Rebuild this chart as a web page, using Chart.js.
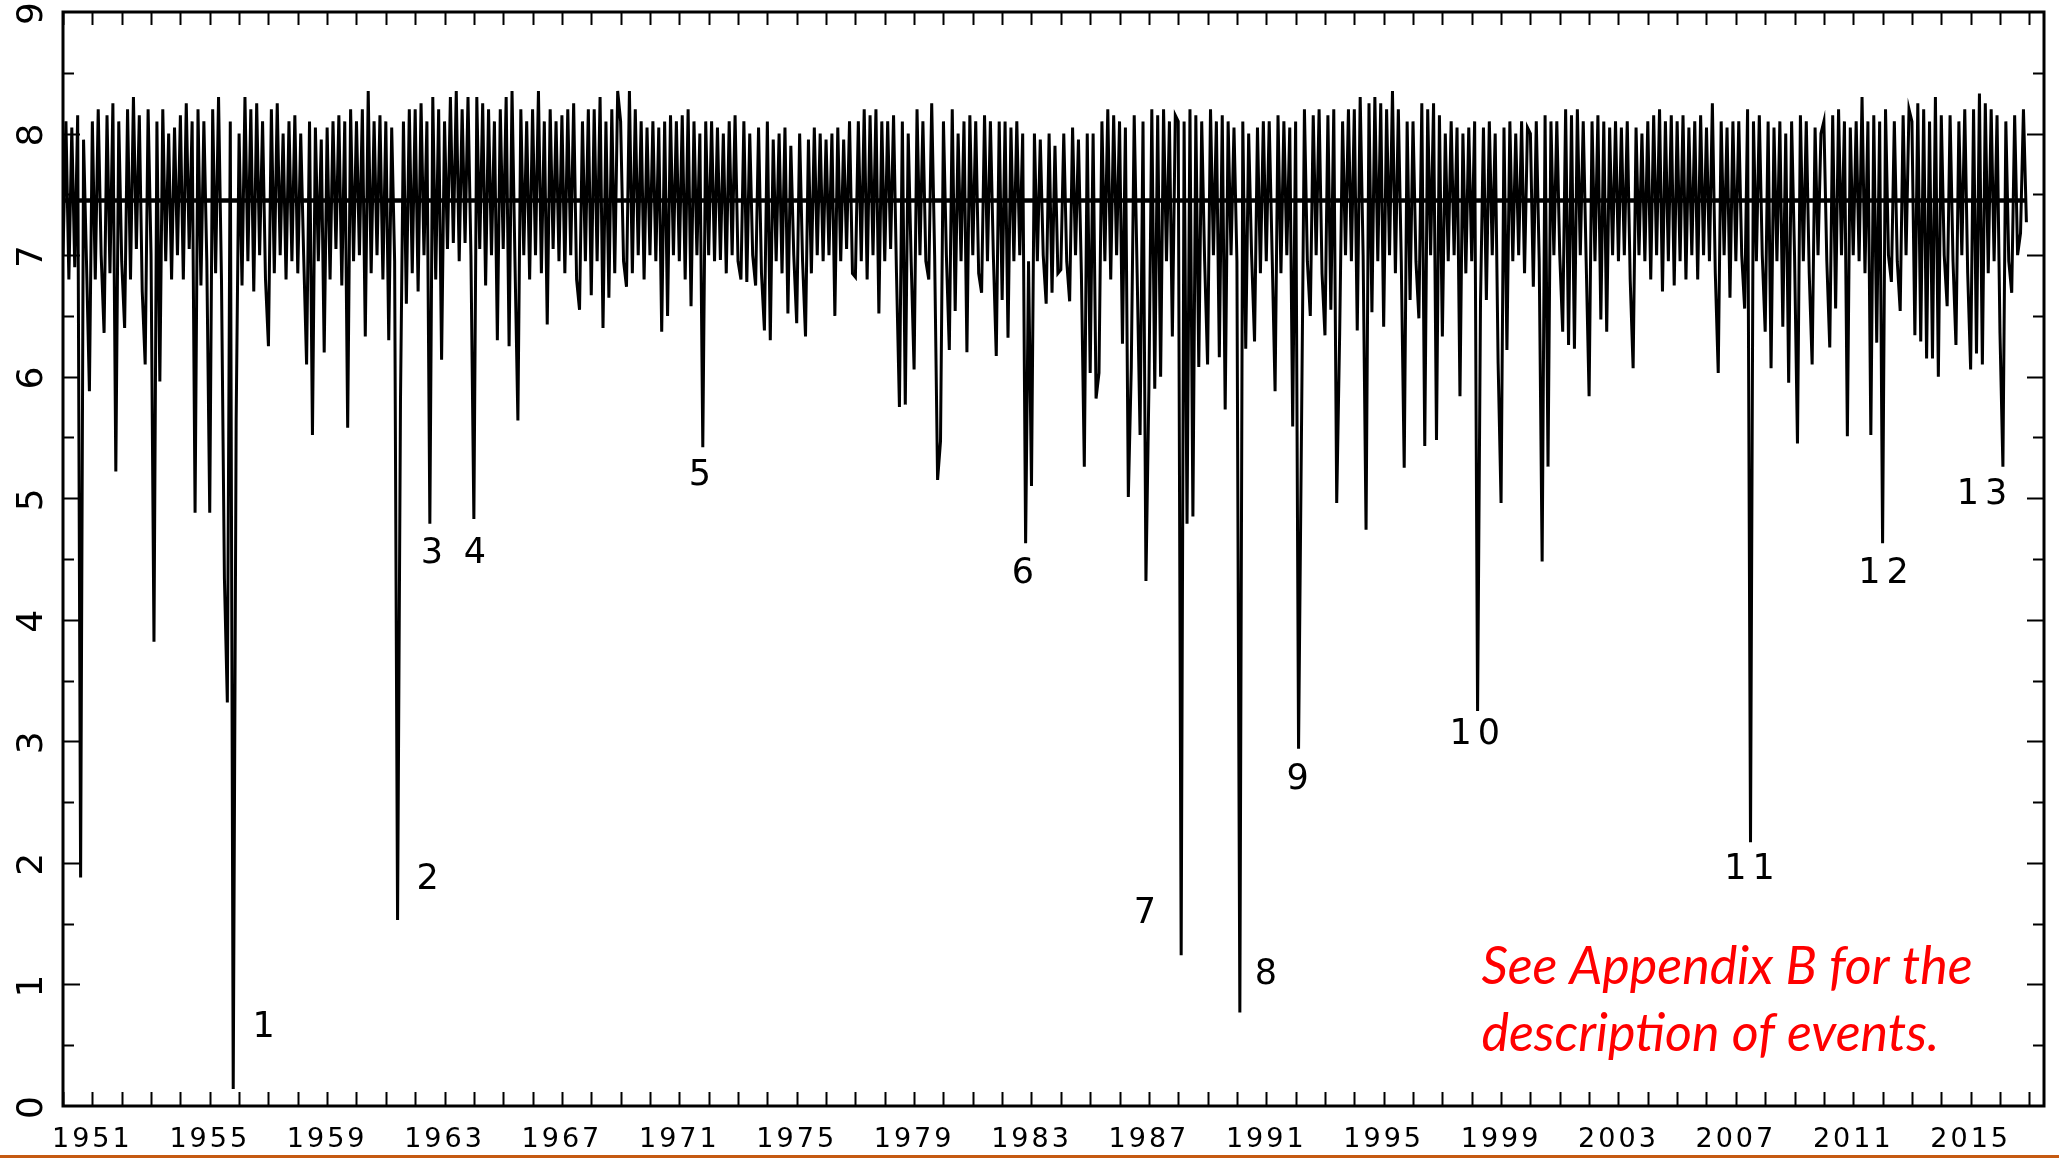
<!DOCTYPE html>
<html>
<head>
<meta charset="utf-8">
<script src="https://cdn.jsdelivr.net/npm/chart.js@4.4.1/dist/chart.umd.min.js"></script>
<style>
  html, body { margin: 0; padding: 0; background: #fff; }
  #wrap { position: relative; width: 2059px; height: 1159px; }
  #rule { position: absolute; left: 0; top: 1155px; width: 2059px; height: 3px; background: #C55A11; }
</style>
</head>
<body>
<div id="wrap">
  <canvas id="levelChart"></canvas>
  <div id="rule"></div>
</div>
<script>
// サンプリング: 1950年から1年あたり10点
const firstYear = 1950;
const samplesPerYear = 10;

// 系列の値（1行 = 1年分）
const levels = [
  7.0, 8.1, 6.8, 8.05, 6.9, 8.15, 1.88, 7.95, 6.95, 5.88,      // 1950
  8.1, 6.8, 8.2, 7.0, 6.36, 8.15, 6.85, 8.25, 5.22, 8.1,       // 1951
  6.95, 6.4, 8.2, 6.8, 8.3, 7.05, 8.15, 6.7, 6.1, 8.2,         // 1952
  7.0, 3.82, 8.1, 5.96, 8.2, 6.95, 8.0, 6.8, 8.05, 7.0,        // 1953
  8.15, 6.8, 8.25, 7.05, 8.1, 4.88, 8.2, 6.75, 8.1, 6.95,      // 1954
  4.88, 8.2, 6.85, 8.3, 6.8, 4.34, 3.32, 8.1, 0.14, 5.64,      // 1955
  8.0, 6.75, 8.3, 6.95, 8.2, 6.7, 8.25, 7.0, 8.1, 6.8,         // 1956
  6.25, 8.2, 6.85, 8.25, 7.0, 8.0, 6.8, 8.1, 6.95, 8.15,       // 1957
  6.85, 8.0, 7.0, 6.1, 8.1, 5.52, 8.05, 6.95, 7.95, 6.2,       // 1958
  8.05, 6.8, 8.1, 7.05, 8.15, 6.75, 8.1, 5.58, 8.2, 6.95,      // 1959
  8.1, 7.0, 8.2, 6.33, 8.35, 6.85, 8.1, 7.0, 8.15, 6.8,        // 1960
  8.1, 6.3, 8.05, 6.95, 1.53, 5.82, 8.1, 6.6, 8.2, 6.85,       // 1961
  8.2, 6.7, 8.25, 7.0, 8.1, 4.79, 8.3, 6.8, 8.2, 6.14,         // 1962
  8.1, 7.05, 8.3, 7.1, 8.35, 6.95, 8.2, 7.1, 8.3, 7.0,         // 1963
  4.83, 8.3, 7.05, 8.25, 6.75, 8.2, 7.0, 8.1, 6.3, 8.2,        // 1964
  7.05, 8.3, 6.25, 8.35, 6.95, 5.64, 8.2, 7.0, 8.1, 6.8,       // 1965
  8.2, 7.0, 8.35, 6.85, 8.1, 6.43, 8.2, 7.05, 8.1, 6.95,       // 1966
  8.15, 6.85, 8.2, 7.0, 8.25, 6.8, 6.55, 8.1, 6.95, 8.2,       // 1967
  6.67, 8.2, 6.95, 8.3, 6.4, 8.1, 6.65, 8.2, 6.85, 8.35,       // 1968
  8.1, 6.95, 6.74, 8.35, 6.85, 8.2, 7.0, 8.1, 6.8, 8.05,       // 1969
  7.0, 8.1, 6.95, 8.05, 6.37, 8.1, 6.5, 8.15, 7.0, 8.1,        // 1970
  6.95, 8.15, 6.8, 8.2, 6.58, 8.1, 7.0, 8.0, 5.42, 8.1,        // 1971
  7.0, 8.1, 6.95, 8.05, 6.96, 8.0, 6.85, 8.1, 7.0, 8.15,       // 1972
  6.95, 6.8, 8.1, 6.78, 8.0, 7.0, 6.75, 8.05, 6.85, 6.38,      // 1973
  8.1, 6.3, 7.95, 6.95, 8.0, 6.85, 8.05, 6.52, 7.9, 7.0,       // 1974
  6.44, 8.0, 6.95, 6.33, 7.95, 6.85, 8.05, 7.0, 8.0, 6.95,     // 1975
  7.95, 7.0, 8.0, 6.5, 8.05, 6.95, 7.95, 7.05, 8.1, 6.85,      // 1976
  6.82, 8.1, 6.95, 8.2, 6.8, 8.15, 7.0, 8.2, 6.52, 8.1,        // 1977
  6.95, 8.1, 7.05, 8.15, 6.85, 5.75, 8.1, 5.77, 8.0, 6.95,     // 1978
  6.06, 8.2, 7.0, 8.1, 6.95, 6.8, 8.25, 7.0, 5.15, 5.47,       // 1979
  8.1, 7.0, 6.22, 8.2, 6.54, 8.0, 6.95, 8.1, 6.2, 8.15,        // 1980
  7.0, 8.1, 6.85, 6.69, 8.15, 6.95, 8.1, 7.0, 6.17, 8.1,       // 1981
  6.63, 8.1, 6.32, 8.05, 6.95, 8.1, 7.0, 8.0, 4.63, 6.95,      // 1982
  5.1, 8.0, 6.95, 7.95, 7.0, 6.6, 8.0, 6.69, 7.9, 6.85,        // 1983
  6.88, 8.0, 6.95, 6.62, 8.05, 7.0, 7.95, 6.85, 5.26, 8.0,     // 1984
  6.03, 8.0, 5.82, 6.03, 8.1, 6.95, 8.2, 6.8, 8.15, 7.0,       // 1985
  8.1, 6.27, 8.05, 5.01, 6.07, 8.15, 6.85, 5.52, 8.1, 4.32,    // 1986
  5.89, 8.2, 5.9, 8.15, 6.0, 8.2, 6.95, 8.1, 6.33, 8.15,       // 1987
  8.1, 1.24, 8.1, 4.79, 8.2, 4.85, 8.15, 6.08, 8.1, 6.95,      // 1988
  6.1, 8.2, 7.0, 8.1, 6.16, 8.15, 5.73, 8.1, 7.0, 8.05,        // 1989
  6.95, 0.77, 8.1, 6.23, 8.0, 7.0, 6.29, 8.05, 6.85, 8.1,      // 1990
  6.95, 8.1, 7.0, 5.88, 8.15, 6.85, 8.1, 7.0, 8.05, 5.59,      // 1991
  8.1, 2.94, 5.56, 8.2, 6.95, 6.5, 8.15, 7.0, 8.2, 6.85,       // 1992
  6.34, 8.15, 6.55, 8.2, 4.96, 6.34, 8.1, 7.0, 8.2, 6.95,      // 1993
  8.2, 6.38, 8.3, 7.0, 4.74, 8.25, 6.53, 8.3, 6.95, 8.25,      // 1994
  6.41, 8.2, 7.0, 8.35, 6.85, 8.2, 6.95, 5.25, 8.1, 6.63,      // 1995
  8.1, 6.95, 6.48, 8.25, 5.43, 8.2, 7.0, 8.25, 5.48, 8.15,     // 1996
  6.33, 8.0, 6.95, 8.1, 7.0, 8.05, 5.84, 8.0, 6.85, 8.05,      // 1997
  6.95, 8.1, 3.25, 6.62, 8.05, 6.63, 8.1, 7.0, 8.0, 6.11,      // 1998
  4.96, 8.05, 6.22, 8.1, 6.95, 8.0, 7.0, 8.1, 6.85, 8.05,      // 1999
  8.0, 6.74, 8.1, 6.95, 4.48, 8.15, 5.26, 8.1, 7.0, 8.1,       // 2000
  7.0, 6.37, 8.2, 6.26, 8.15, 6.23, 8.2, 7.0, 8.1, 6.95,       // 2001
  5.84, 8.1, 6.95, 8.15, 6.47, 8.1, 6.37, 8.05, 7.0, 8.1,      // 2002
  6.95, 8.05, 7.0, 8.1, 6.8, 6.07, 8.05, 7.0, 8.0, 6.95,       // 2003
  8.1, 6.8, 8.15, 7.0, 8.2, 6.7, 8.1, 6.95, 8.15, 6.75,        // 2004
  8.1, 6.95, 8.15, 6.8, 8.05, 7.0, 8.1, 6.8, 8.15, 7.0,        // 2005
  8.05, 6.95, 8.25, 6.85, 6.03, 8.1, 7.0, 8.05, 6.65, 8.1,     // 2006
  6.95, 8.1, 7.0, 6.56, 8.2, 2.17, 8.1, 6.95, 8.15, 7.0,       // 2007
  6.37, 8.1, 6.07, 8.05, 6.95, 8.1, 6.41, 8.0, 5.95, 8.1,      // 2008
  7.0, 5.45, 8.15, 6.95, 8.1, 6.85, 6.1, 8.05, 7.0, 8.0,       // 2009
  8.1, 6.95, 6.24, 8.15, 6.56, 8.2, 7.0, 8.1, 5.51, 8.05,      // 2010
  7.0, 8.1, 6.95, 8.3, 6.85, 8.1, 5.52, 8.15, 6.28, 8.1,       // 2011
  4.63, 8.2, 7.0, 6.78, 8.1, 6.95, 6.54, 8.15, 7.0, 8.2,       // 2012
  8.1, 6.34, 8.25, 6.29, 8.2, 6.15, 8.1, 6.15, 8.3, 6.0,       // 2013
  8.15, 7.0, 6.58, 8.15, 6.95, 6.26, 8.1, 7.0, 8.2, 6.85,      // 2014
  6.06, 8.2, 6.19, 8.33, 6.1, 8.25, 6.85, 8.2, 6.95, 8.15,     // 2015
  6.36, 5.26, 8.1, 6.95, 6.69, 8.15, 7.0, 7.18, 8.2, 7.27      // 2016
];

// 平均レベル（水平線）
const meanLevel = 7.45;

// 軸の目盛りラベル
const xLabelYears = [1951, 1955, 1959, 1963, 1967, 1971, 1975, 1979, 1983, 1987, 1991, 1995, 1999, 2003, 2007, 2011, 2015];
const yLabelValues = [0, 1, 2, 3, 4, 5, 6, 7, 8, 9];

// イベント番号と位置（年, 値）
const eventNames = ['1', '2', '3', '4', '5', '6', '7', '8', '9', '10', '11', '12', '13'];
const eventYears = [1956.94, 1962.53, 1962.67, 1964.14, 1971.8, 1982.81, 1986.97, 1991.09, 1992.17, 1998.21, 2007.57, 2012.13, 2015.49];
const eventValues = [0.64, 1.86, 4.54, 4.54, 5.18, 4.38, 1.58, 1.08, 2.68, 3.05, 1.94, 4.38, 5.03];

// 注記
const noteLines = ['See Appendix B for the', 'description of events.'];
const noteYear = 1998.33;
const noteValues = [1.14, 0.59];

// データ点の作成
const levelPoints = levels.map((v, i) => ({ x: firstYear + i / samplesPerYear, y: v }));
const lastYear = levelPoints[levelPoints.length - 1].x;
const meanPoints = [{ x: firstYear, y: meanLevel }, { x: lastYear, y: meanLevel }];

// 枠・内向き目盛り・注記を描くプラグイン
const framePlugin = {
    id: 'frame',
    beforeDraw(chart) {
        chart.ctx.letterSpacing = '3px';
    },
    afterDraw(chart) {
        const { ctx, chartArea: a, scales: { x, y } } = chart;
        ctx.save();
        ctx.strokeStyle = '#000';
        ctx.lineWidth = 2;
        ctx.beginPath();
        for (let yr = Math.ceil(x.min); yr <= x.max; yr++) {
            const px = Math.round(x.getPixelForValue(yr)) + 0.5;
            ctx.moveTo(px, a.bottom); ctx.lineTo(px, a.bottom - 14);
            ctx.moveTo(px, a.top); ctx.lineTo(px, a.top + 13);
        }
        for (let v = y.min + 0.5; v < y.max; v += 0.5) {
            const py = Math.round(y.getPixelForValue(v)) + 0.5;
            const len = Number.isInteger(v) ? 17 : 11;
            ctx.moveTo(a.left, py); ctx.lineTo(a.left + len, py);
            ctx.moveTo(a.right, py); ctx.lineTo(a.right - len, py);
        }
        ctx.stroke();

        ctx.lineWidth = 3;
        ctx.strokeRect(a.left, a.top, a.right - a.left, a.bottom - a.top);

        // イベント番号
        ctx.fillStyle = '#000';
        ctx.font = '35px "DejaVu Sans"';
        ctx.textAlign = 'center';
        ctx.textBaseline = 'middle';
        ctx.letterSpacing = '6px';
        eventNames.forEach((name, i) => {
            ctx.fillText(name, x.getPixelForValue(eventYears[i]), y.getPixelForValue(eventValues[i]));
        });

        // 赤い注記
        ctx.letterSpacing = '0px';
        ctx.fillStyle = '#ff0000';
        ctx.font = 'italic 52px Lato';
        ctx.textAlign = 'left';
        noteLines.forEach((line, i) => {
            ctx.fillText(line, x.getPixelForValue(noteYear), y.getPixelForValue(noteValues[i]));
        });
        ctx.restore();
    }
};

const ctx = document.getElementById('levelChart').getContext('2d');
new Chart(ctx, {
    type: 'line',
    data: {
        datasets: [
            {
                data: levelPoints,
                borderColor: '#000',
                borderWidth: 3,
                pointRadius: 0,
                tension: 0,
                fill: false
            },
            {
                data: meanPoints,
                borderColor: '#000',
                borderWidth: 4.5,
                pointRadius: 0,
                fill: false
            }
        ]
    },
    options: {
        responsive: true,
        maintainAspectRatio: false,
        animation: false,
        normalized: true,
        layout: { padding: { top: 12, right: 15, left: 0, bottom: 0 } },
        plugins: {
            legend: { display: false },
            tooltip: { enabled: false }
        },
        scales: {
            x: {
                type: 'linear',
                min: 1950,
                max: 2017.5,
                grid: { display: false, drawTicks: false },
                border: { display: false },
                afterBuildTicks: s => { s.ticks = xLabelYears.map(v => ({ value: v })); },
                afterFit: s => { s.height = 53; s.paddingLeft = 0; s.paddingRight = 0; },
                ticks: {
                    autoSkip: false,
                    maxRotation: 0,
                    padding: 18,
                    color: '#000',
                    font: { family: 'DejaVu Sans', size: 27 },
                    callback: v => String(v)
                }
            },
            y: {
                min: 0,
                max: 9,
                grid: { display: false, drawTicks: false },
                border: { display: false },
                afterBuildTicks: s => { s.ticks = yLabelValues.map(v => ({ value: v })); },
                afterFit: s => { s.width = 63; s.paddingTop = 0; s.paddingBottom = 0; },
                ticks: {
                    minRotation: 90,
                    maxRotation: 90,
                    crossAlign: 'center',
                    padding: 19,
                    color: '#000',
                    font: { family: 'DejaVu Sans', size: 36 },
                    callback: v => String(v)
                }
            }
        }
    },
    plugins: [framePlugin]
});
</script>
</body>
</html>
